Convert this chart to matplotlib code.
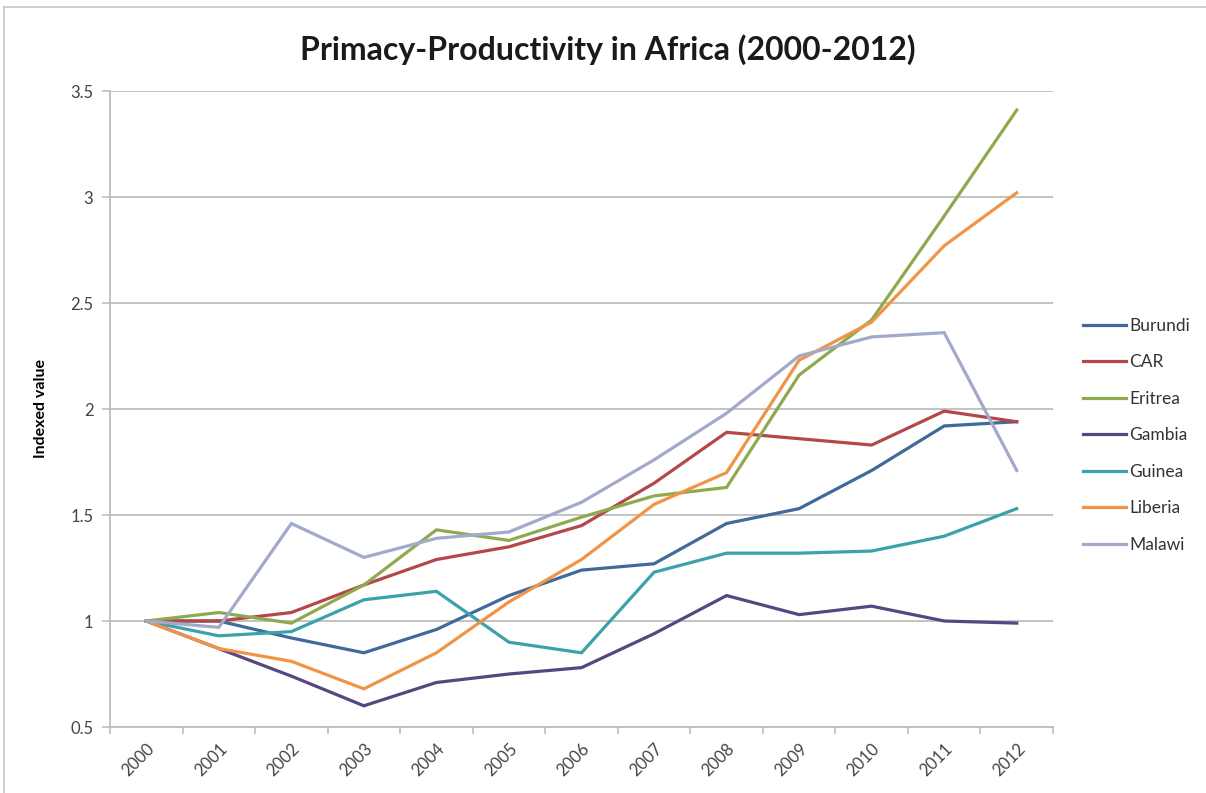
import matplotlib
matplotlib.use("Agg")
import matplotlib.pyplot as plt
import numpy as np
from matplotlib.lines import Line2D

plt.rcParams["font.family"] = ["Lato", "DejaVu Sans"]

years = ["2000", "2001", "2002", "2003", "2004", "2005", "2006",
         "2007", "2008", "2009", "2010", "2011", "2012"]

burundi = [1.0, 1.0, 0.92, 0.85, 0.96, 1.12, 1.24, 1.27, 1.46, 1.53, 1.71, 1.92, 1.94]
car = [1.0, 1.0, 1.04, 1.17, 1.29, 1.35, 1.45, 1.65, 1.89, 1.86, 1.83, 1.99, 1.94]
eritrea = [1.0, 1.04, 0.99, 1.17, 1.43, 1.38, 1.49, 1.59, 1.63, 2.16, 2.42, 2.91, 3.41]
gambia = [1.0, 0.87, 0.74, 0.60, 0.71, 0.75, 0.78, 0.94, 1.12, 1.03, 1.07, 1.0, 0.99]
guinea = [1.0, 0.93, 0.95, 1.10, 1.14, 0.90, 0.85, 1.23, 1.32, 1.32, 1.33, 1.40, 1.53]
liberia = [1.0, 0.87, 0.81, 0.68, 0.85, 1.09, 1.29, 1.55, 1.70, 2.23, 2.41, 2.77, 3.02]
malawi = [1.0, 0.97, 1.46, 1.30, 1.39, 1.42, 1.56, 1.76, 1.98, 2.25, 2.34, 2.36, 1.71]

names = ["Burundi", "CAR", "Eritrea", "Gambia", "Guinea", "Liberia", "Malawi"]
colors = ["#3F6A99", "#B3474A", "#8FAA4E", "#584682", "#3AA2A8", "#F09448", "#A2A9CB"]

fig = plt.figure(figsize=(12.06, 7.93), dpi=100)
ax = fig.add_axes([110 / 1206, 1 - 727 / 793, 943 / 1206, 636 / 793])

x = np.arange(len(years))
series = [burundi, car, eritrea, gambia, guinea, liberia, malawi]
for vals, name, c in zip(series, names, colors):
    ax.plot(x, vals, color=c, lw=2.3, label=name, solid_joinstyle="miter")

ax.set_xlim(-0.5, len(years) - 0.5)
ax.set_ylim(0.5, 3.5)
ax.set_yticks([0.5, 1, 1.5, 2, 2.5, 3, 3.5])
ax.set_yticklabels(["0.5", "1", "1.5", "2", "2.5", "3", "3.5"])
ax.yaxis.grid(True, color="#BEBEBE", lw=1.3)
ax.set_axisbelow(True)

ax.set_xticks(x)
ax.set_xticklabels(years, rotation=45, ha="right", rotation_mode="anchor")
ax.set_xticks(np.arange(-0.5, len(years)), minor=True)
ax.tick_params(axis="x", which="major", length=0, pad=10)
ax.tick_params(axis="x", which="minor", length=5, color="#BEBEBE", width=1.2)
ax.tick_params(axis="y", length=6, color="#BEBEBE", width=1.2, pad=6)
ax.tick_params(labelsize=12, labelcolor="#444444")

for s in ["top", "right"]:
    ax.spines[s].set_visible(False)
for s in ["left", "bottom"]:
    ax.spines[s].set_color("#BEBEBE")
    ax.spines[s].set_linewidth(1.3)

ax.set_ylabel("Indexed value", fontsize=11.5, fontweight="bold", labelpad=16)

fig.text(608 / 1206, 1 - 50 / 793, "Primacy-Productivity in Africa (2000-2012)",
         ha="center", va="center", fontsize=23, fontweight="bold", color="#1a1a1a")

leg = ax.legend(loc="upper left", bbox_to_anchor=(1083 / 1206, 1 - 318 / 793),
                bbox_transform=fig.transFigure, frameon=False,
                fontsize=12.5, labelspacing=1.18, handlelength=2.5,
                handletextpad=0.15, borderaxespad=0, borderpad=0)
for t in leg.get_texts():
    t.set_color("#333333")

# chart frame
fig.add_artist(Line2D([4 / 1206, 1], [1 - 7 / 793] * 2, color="#C8C8C8", lw=1.2))
fig.add_artist(Line2D([4 / 1206] * 2, [0, 1 - 7 / 793], color="#C8C8C8", lw=1.2))

fig.savefig("out.png", dpi=100)
